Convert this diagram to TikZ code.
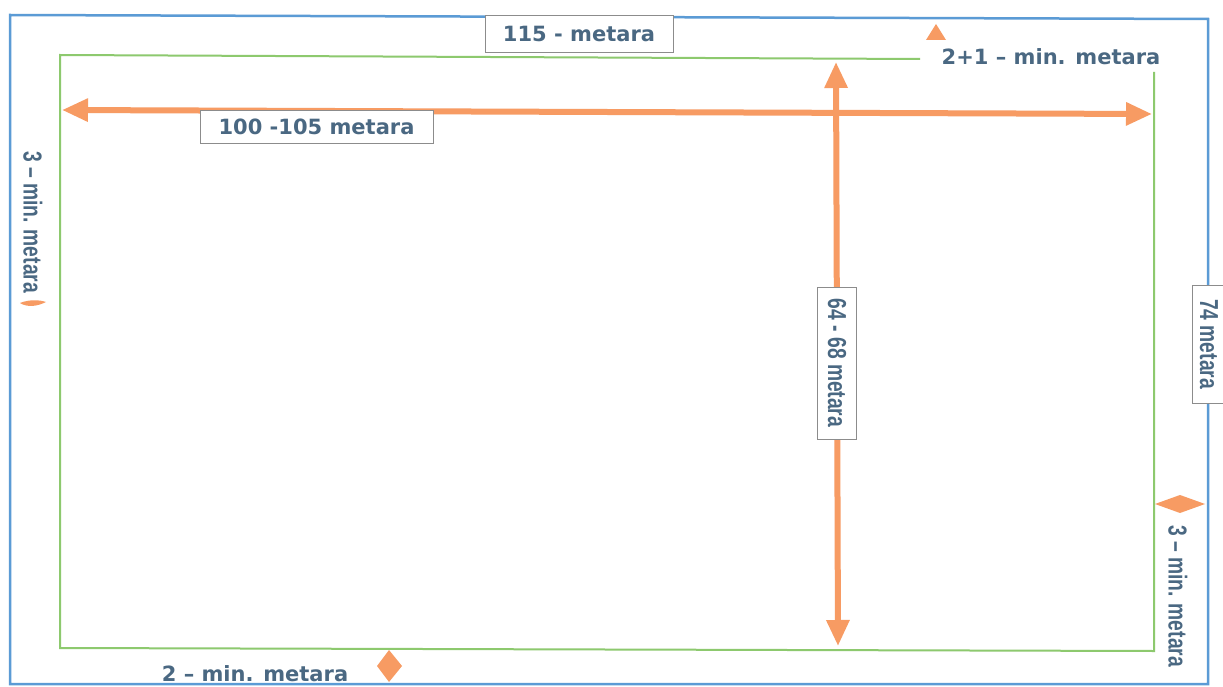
\documentclass[tikz,border=0pt]{standalone}
\usepackage{fontspec}
\usepackage{graphicx}
\newfontfamily\hfont{DejaVu Sans}
\newfontfamily\vfont{Liberation Sans}
\usetikzlibrary{arrows.meta}
\definecolor{txt}{HTML}{4A6882}
\definecolor{fieldgreen}{HTML}{8DC96E}
\definecolor{outerblue}{HTML}{5B9BD5}
\definecolor{arroworange}{HTML}{F79B63}
\definecolor{boxgray}{HTML}{8C8C8C}
\newcommand{\squeeze}[1]{\scalebox{0.74}[1]{#1}}
\begin{document}
\begin{tikzpicture}[x=1pt,y=-1pt,
  htext/.style={font=\hfont\bfseries\fontsize{21}{24}\selectfont, text=txt, inner sep=0pt},
  vtext/.style={font=\vfont\bfseries\fontsize{26}{30}\selectfont, text=txt, inner sep=0pt, rotate=-90},
  labelbox/.style={draw=boxgray, line width=0.8pt, fill=white},
  dimarrow/.style={draw=arroworange, line width=6pt,
    {Triangle[length=26pt,width=22pt]}-{Triangle[length=26pt,width=22pt]}},
  markfill/.style={fill=arroworange}]
\useasboundingbox (0,0) rectangle (1223,687);
\clip (0,0) rectangle (1223,687);
\fill[white] (0,0) rectangle (1223,687);
% outer (blue) boundary
\draw[outerblue, line width=2.5pt] (10,15) -- (1208,19) -- (1208,684) -- (10,684) -- cycle;
% field (green)
\draw[fieldgreen, line width=2pt] (920,59) -- (60,55) -- (60,648) -- (1154,651) -- (1154,72);
% dimension arrows
\coordinate (hL) at (62,110);
\coordinate (hR) at (1152,114);
\coordinate (vT) at (836,62);
\coordinate (vB) at (838,646);
\draw[dimarrow] (hL) -- (hR);
\draw[dimarrow] (vT) -- (vB);
% labelled boxes
\node[labelbox, htext, minimum width=188pt, minimum height=37pt] (b115) at (579,33.5) {115 - metara};
\node[labelbox, htext, minimum width=233pt, minimum height=33pt] (b100) at (316.5,126.5) {100 -105 metara};
\node[labelbox, vtext, minimum width=152pt, minimum height=39pt] (b64) at (837,363) {\squeeze{64 - 68 metara}};
\node[labelbox, vtext, minimum width=118pt, minimum height=34pt] (b74) at (1209,344) {\squeeze{74 metara}};
% free labels
\node[htext, anchor=base] (t21) at (1051,65) {2+1 – min. metara};
\node[htext, anchor=base] (t2) at (255,681) {2 – min. metara};
\node[vtext] (t3l) at (33,222) {\squeeze{3 – min. metara}};
\node[vtext] (t3r) at (1178,596) {\squeeze{3 – min. metara}};
% small orange marks
\fill[markfill] (926,40) -- (936,24) -- (946,40) -- cycle;
\fill[markfill] (389,650) -- (402,666) -- (389,682) -- (377,666) -- cycle;
\fill[markfill] (1155,504) -- (1180,495) -- (1205,504) -- (1180,513) -- cycle;
\fill[markfill] (20,303) .. controls (30,299) and (40,300) .. (46,302) .. controls (38,306) and (28,308) .. (20,303);
\end{tikzpicture}
\end{document}
